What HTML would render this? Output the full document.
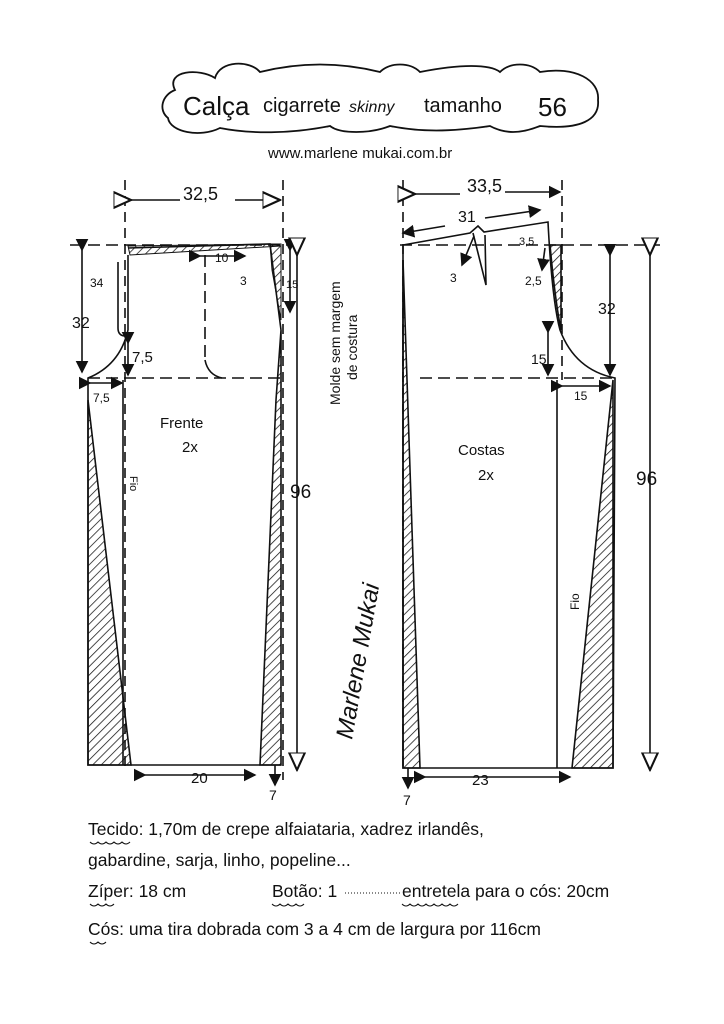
<!DOCTYPE html>
<html><head><meta charset="utf-8"><style>
html,body{margin:0;padding:0;background:#fff}
svg{display:block}
text{font-family:"Liberation Sans",sans-serif;fill:#111}
</style></head><body>
<svg width="724" height="1024" viewBox="0 0 724 1024" xmlns="http://www.w3.org/2000/svg">
<defs>
<pattern id="h" width="6" height="6" patternUnits="userSpaceOnUse" patternTransform="rotate(45)">
<line x1="0" y1="0" x2="0" y2="6" stroke="#111" stroke-width="1.5"/></pattern>
<marker id="a" markerWidth="8" markerHeight="8" refX="7" refY="4" orient="auto"><path d="M0,0 L8,4 L0,8 z" fill="#111"/></marker>
<marker id="o" markerWidth="12" markerHeight="12" refX="11" refY="6" orient="auto"><path d="M0,1 L11,6 L0,11 z" fill="#fff" stroke="#111" stroke-width="1.3"/></marker>
</defs>
<rect width="724" height="1024" fill="#fff"/>
<g fill="none" stroke="#111" stroke-width="1.8">
<path d="M175,90 C165,70 200,68 215,78 C220,60 250,60 260,72 C300,62 340,62 380,72 C390,62 410,62 420,72 C460,64 490,64 500,72 C510,62 530,62 540,72 C575,66 600,80 598,100 C600,120 580,130 540,126 C520,134 505,134 490,126 C450,132 420,132 390,126 C370,134 340,134 330,126 C290,134 250,134 220,128 C200,138 170,132 168,118 C158,110 162,95 175,90 z"/>
</g>
<text x="183" y="115" font-size="26">Calça</text>
<text x="263" y="112" font-size="20">cigarrete</text>
<text x="349" y="112" font-size="16" font-style="italic">skinny</text>
<text x="424" y="112" font-size="20">tamanho</text>
<text x="538" y="116" font-size="26">56</text>
<text x="268" y="158" font-size="15">www.marlene mukai.com.br</text>

<!-- FRONT -->
<g stroke="#111" fill="none" stroke-width="1.6">
<path d="M88,400 L131,765 L88,765 z" fill="url(#h)"/>
<path d="M281,330 L281,765 L260,765 L276,400 z" fill="url(#h)"/>
<path d="M128,246 L270,244 L281,246 L130,255 z" fill="url(#h)" stroke-width="1"/>
<path d="M270,244 L281,244 L281,320 L272,270 z" fill="url(#h)" stroke-width="1"/>
<line x1="125" y1="180" x2="125" y2="770" stroke-dasharray="10,6"/>
<line x1="283" y1="180" x2="283" y2="780" stroke-dasharray="10,6"/>
<line x1="70" y1="245" x2="290" y2="245" stroke-dasharray="12,6"/>
<line x1="88" y1="378" x2="280" y2="378" stroke-dasharray="12,6"/>
<path d="M128,248 L270,244 L281,330"/>
<path d="M128,255 L128,330 Q120,365 88,378 L88,765 L281,765"/>
<line x1="123" y1="380" x2="123" y2="765"/>
<path d="M118,262 L118,328 Q118,335 124,336"/>
<line x1="205" y1="255" x2="205" y2="360" stroke-dasharray="12,6"/>
<path d="M205,360 Q208,375 222,378"/>
<line x1="131" y1="200" x2="180" y2="200" marker-start="url(#o)"/>
<line x1="235" y1="200" x2="280" y2="200" marker-end="url(#o)"/>
<line x1="82" y1="250" x2="82" y2="372" marker-start="url(#a)" marker-end="url(#a)"/>
<line x1="290" y1="250" x2="290" y2="312" marker-start="url(#a)" marker-end="url(#a)"/>
<line x1="297" y1="255" x2="297" y2="770" marker-start="url(#o)" marker-end="url(#o)"/>
<line x1="128" y1="343" x2="128" y2="375" marker-start="url(#a)" marker-end="url(#a)"/>
<line x1="90" y1="383" x2="122" y2="383" marker-start="url(#a)" marker-end="url(#a)"/>
<line x1="200" y1="256" x2="245" y2="256" marker-start="url(#a)" marker-end="url(#a)"/>
<line x1="145" y1="775" x2="255" y2="775" marker-start="url(#a)" marker-end="url(#a)"/>
<line x1="275" y1="765" x2="275" y2="785" marker-end="url(#a)"/>
</g>
<text x="183" y="200" font-size="18">32,5</text>
<text x="72" y="328" font-size="16">32</text>
<text x="132" y="362" font-size="15">7,5</text>
<text x="93" y="402" font-size="12">7,5</text>
<text x="215" y="262" font-size="12">10</text>
<text x="286" y="288" font-size="11">15</text>
<text x="240" y="285" font-size="12">3</text>
<text x="90" y="287" font-size="12">34</text>
<text x="160" y="428" font-size="15">Frente</text>
<text x="182" y="452" font-size="15">2x</text>
<text x="130" y="476" font-size="11" transform="rotate(90 130 476)">Fio</text>
<text x="290" y="498" font-size="19">96</text>
<text x="191" y="783" font-size="15">20</text>
<text x="269" y="800" font-size="14">7</text>
<text x="340" y="405" font-size="14" transform="rotate(-90 340 405)">Molde sem margem</text>
<text x="357" y="380" font-size="14" transform="rotate(-90 357 380)">de costura</text>
<text x="352" y="740" font-size="24" font-style="italic" transform="rotate(-80 352 740)">Marlene Mukai</text>

<!-- BACK -->
<g stroke="#111" fill="none" stroke-width="1.6">
<path d="M403,260 L420,768 L403,768 z" fill="url(#h)"/>
<path d="M613,380 L613,768 L572,768 z" fill="url(#h)"/>
<path d="M550,245 L561,245 L561,330 Q555,300 550,245 z" fill="url(#h)"/>
<line x1="403" y1="180" x2="403" y2="772" stroke-dasharray="10,6"/>
<line x1="562" y1="180" x2="562" y2="380" stroke-dasharray="10,6"/>
<line x1="400" y1="245" x2="660" y2="245" stroke-dasharray="12,6"/>
<line x1="420" y1="378" x2="612" y2="378" stroke-dasharray="12,6"/>
<path d="M403,245 L470,233 L478,226 L484,232 L548,222 Q552,300 560,330 Q575,370 615,378 L613,768 L403,768 L403,245"/>
<path d="M473,233 L486,285 L485,235"/>
<line x1="557" y1="380" x2="557" y2="768"/>
<line x1="415" y1="194" x2="460" y2="194" marker-start="url(#o)"/>
<line x1="505" y1="192" x2="560" y2="192" marker-end="url(#a)"/>
<line x1="445" y1="226" x2="403" y2="233" marker-end="url(#a)"/>
<line x1="485" y1="218" x2="540" y2="210" marker-end="url(#a)"/>
<line x1="474" y1="236" x2="462" y2="265" marker-end="url(#a)"/>
<line x1="545" y1="248" x2="542" y2="270" marker-end="url(#a)"/>
<line x1="610" y1="255" x2="610" y2="375" marker-start="url(#a)" marker-end="url(#a)"/>
<line x1="548" y1="332" x2="548" y2="375" marker-start="url(#a)" marker-end="url(#a)"/>
<line x1="562" y1="386" x2="610" y2="386" marker-start="url(#a)" marker-end="url(#a)"/>
<line x1="650" y1="255" x2="650" y2="770" marker-start="url(#o)" marker-end="url(#o)"/>
<line x1="425" y1="777" x2="570" y2="777" marker-start="url(#a)" marker-end="url(#a)"/>
<line x1="408" y1="768" x2="408" y2="788" marker-end="url(#a)"/>
</g>
<text x="467" y="192" font-size="18">33,5</text>
<text x="458" y="222" font-size="16">31</text>
<text x="519" y="245" font-size="11">3,5</text>
<text x="450" y="282" font-size="12">3</text>
<text x="525" y="285" font-size="12">2,5</text>
<text x="598" y="314" font-size="16">32</text>
<text x="531" y="364" font-size="14">15</text>
<text x="574" y="400" font-size="12">15</text>
<text x="458" y="455" font-size="15">Costas</text>
<text x="478" y="480" font-size="15">2x</text>
<text x="579" y="610" font-size="12" transform="rotate(-90 579 610)">Fio</text>
<text x="636" y="485" font-size="19">96</text>
<text x="472" y="785" font-size="15">23</text>
<text x="403" y="805" font-size="14">7</text>

<g font-size="17.5">
<text x="88" y="835">Tecido: 1,70m de crepe alfaiataria, xadrez irlandês,</text>
<text x="88" y="866">gabardine, sarja, linho, popeline...</text>
<text x="88" y="897">Zíper: 18 cm</text>
<text x="272" y="897">Botão: 1</text>
<text x="402" y="897">entretela para o cós: 20cm</text>
<text x="88" y="935">Cós: uma tira dobrada com 3 a 4 cm de largura por 116cm</text>
</g>
<g stroke="#111" fill="none" stroke-width="1">
<path d="M90,842 q4,4 8,0 q4,4 8,0 q4,4 8,0 q4,4 8,0 q4,4 8,0"/>
<path d="M90,904 q4,4 8,0 q4,4 8,0 q4,4 8,0"/>
<path d="M272,904 q4,4 8,0 q4,4 8,0 q4,4 8,0 q4,4 8,0"/>
<path d="M402,904 q4,4 8,0 q4,4 8,0 q4,4 8,0 q4,4 8,0 q4,4 8,0 q4,4 8,0 q4,4 8,0"/>
<path d="M90,942 q4,4 8,0 q4,4 8,0"/>
<line x1="345" y1="893" x2="400" y2="893" stroke-dasharray="1,2"/>
</g>
</svg>
</body></html>
